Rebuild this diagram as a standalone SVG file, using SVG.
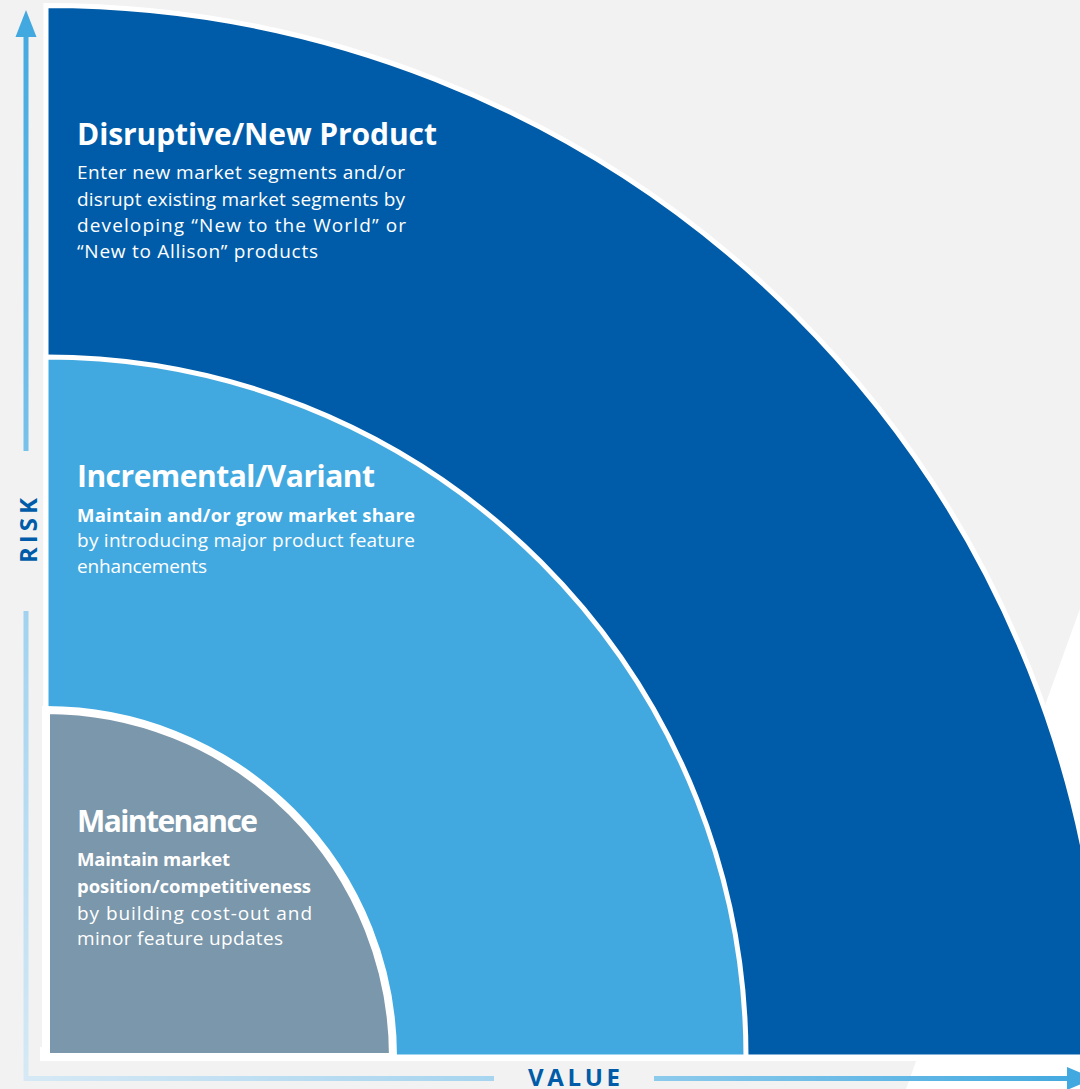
<svg xmlns="http://www.w3.org/2000/svg" width="1080" height="1089" viewBox="0 0 1080 1089">
  <defs>
    <style>
      .title { font-family: "Open Sans", "Noto Sans", "Liberation Sans", sans-serif; font-weight: 700; font-size: 30px; fill: #ffffff; }
      .body { font-family: "Open Sans", "Noto Sans", "Liberation Sans", sans-serif; font-weight: 400; font-size: 19px; fill: #ffffff; }
      .bodyb { font-family: "Open Sans", "Noto Sans", "Liberation Sans", sans-serif; font-weight: 700; font-size: 18.5px; fill: #ffffff; }
      .axis { font-family: "Open Sans", "Noto Sans", "Liberation Sans", sans-serif; font-weight: 700; font-size: 24px; fill: #005ca8; }
      .sector { stroke: #ffffff; stroke-linejoin: miter; }
    </style>
    <linearGradient id="gv" gradientUnits="userSpaceOnUse" x1="0" y1="10" x2="0" y2="1080">
      <stop offset="0" stop-color="#42a9e0"/>
      <stop offset="0.41" stop-color="#78c1ea"/>
      <stop offset="0.56" stop-color="#a0d2ef"/>
      <stop offset="1" stop-color="#d6e9f5"/>
    </linearGradient>
    <linearGradient id="gh" gradientUnits="userSpaceOnUse" x1="24" y1="0" x2="1080" y2="0">
      <stop offset="0" stop-color="#d6e9f5"/>
      <stop offset="0.45" stop-color="#a6d4ef"/>
      <stop offset="0.6" stop-color="#8ccaec"/>
      <stop offset="1" stop-color="#42a9e0"/>
    </linearGradient>
  </defs>

  <rect x="0" y="0" width="1080" height="1089" fill="#f2f2f2"/>
  <polygon points="1085,595 1085,1089 906,1089" fill="#ffffff"/>
  <rect x="40" y="1047" width="10" height="14" fill="#ffffff"/>
  <rect x="40" y="1053" width="1045" height="8" fill="#ffffff"/>

  <g id="disruptive">
    <path class="sector" d="M46,1057 L46,5.5 A1058,1051.5 0 0 1 1104,1057 Z" fill="#005ca8" stroke-width="5"/>
    <text class="title" x="77" y="145" textLength="360">Disruptive/New Product</text>
    <text class="body" x="77" y="179" textLength="328">Enter new market segments and/or</text>
    <text class="body" x="77" y="206" textLength="328">disrupt existing market segments by</text>
    <text class="body" x="77" y="232" textLength="329">developing “New to the World” or</text>
    <text class="body" x="77" y="258" textLength="241">“New to Allison” products</text>
  </g>

  <g id="incremental">
    <path class="sector" d="M46,1057 L46,357 A700,700 0 0 1 746,1057 Z" fill="#42a9e0" stroke-width="5"/>
    <text class="title" x="77" y="487" textLength="298">Incremental/Variant</text>
    <text class="bodyb" x="77" y="522" textLength="338">Maintain and/or grow market share</text>
    <text class="body" x="77" y="547" textLength="338">by introducing major product feature</text>
    <text class="body" x="77" y="573" textLength="130">enhancements</text>
  </g>

  <g id="maintenance">
    <path class="sector" d="M46,1057 L46,710 A347,347 0 0 1 393,1057 Z" fill="#7b97ab" stroke-width="8"/>
    <text class="title" x="77" y="832" textLength="181">Maintenance</text>
    <text class="bodyb" x="77" y="866" textLength="153">Maintain market</text>
    <text class="bodyb" x="77" y="893" textLength="234">position/competitiveness</text>
    <text class="body" x="77" y="920" textLength="235">by building cost-out and</text>
    <text class="body" x="77" y="945" textLength="206">minor feature updates</text>
  </g>

  <g id="axes">
    <rect x="23.5" y="30" width="5" height="421" fill="url(#gv)"/>
    <polygon points="26,10 36.5,37 15.5,37" fill="#42a9e0"/>
    <path d="M26,611 L26,1078.5 L494,1078.5" fill="none" stroke="url(#gv)" stroke-width="5"/>
    <path d="M26,1078.5 L494,1078.5" fill="none" stroke="url(#gh)" stroke-width="5"/>
    <path d="M654,1078.5 L1070,1078.5" fill="none" stroke="url(#gh)" stroke-width="5"/>
    <polygon points="1067,1067 1094,1078.5 1067,1090" fill="#42a9e0"/>
    <text class="axis" transform="translate(37,530.5) rotate(-90)" x="0" y="0" text-anchor="middle" textLength="65">RISK</text>
    <text class="axis" x="574" y="1086" text-anchor="middle" textLength="92">VALUE</text>
  </g>
</svg>
